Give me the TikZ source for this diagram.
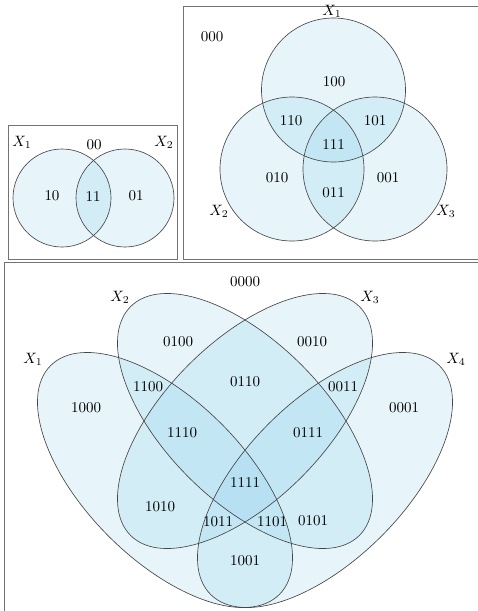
\documentclass[tikz,border=0pt]{standalone}
\definecolor{venn}{RGB}{135,206,235}
\tikzset{
  vfill/.style={fill=venn, fill opacity=0.2},
  vline/.style={draw=black!72, line width=0.65pt},
  frame/.style={draw=black!55, line width=1pt},
  lab/.style={inner sep=0pt, scale=1.5},
}
\begin{document}
\begin{tikzpicture}[x=1pt,y=-1pt]
\useasboundingbox (0,0) rectangle (478,611);
\clip (0,0) rectangle (478,611);
\fill[white] (0,0) rectangle (478,611);
% frames
\draw[frame] (8,125) rectangle (177,259);
\draw[frame] (183,6) rectangle (490,259);
\draw[frame] (4.5,262) rectangle (490,630);
% ---- panel 1
\foreach \c in {(62,198),(125,198)} \fill[vfill] \c circle[radius=49pt];
\foreach \c in {(62,198),(125,198)} \draw[vline] \c circle[radius=49pt];
\node[lab] (a1) at (22,142) {$X_1$};
\node[lab] (a2) at (164,142) {$X_2$};
\node[lab] (a00) at (94,145) {00};
\node[lab] (a10) at (52,196) {10};
\node[lab] (a11) at (93,196) {11};
\node[lab] (a01) at (136,196) {01};
% ---- panel 2
\foreach \c in {(333.5,90),(292,169),(375,169)} \fill[vfill] \c circle[radius=72pt];
\foreach \c in {(333.5,90),(292,169),(375,169)} \draw[vline] \c circle[radius=72pt];
\node[lab] (b1) at (332,11) {$X_1$};
\node[lab] (b2) at (219,211) {$X_2$};
\node[lab] (b3) at (446,211) {$X_3$};
\node[lab] (b000) at (212,37) {000};
\node[lab] (b100) at (334,82) {100};
\node[lab] (b110) at (291,121) {110};
\node[lab] (b101) at (375,121) {101};
\node[lab] (b111) at (333.5,145) {111};
\node[lab] (b010) at (277,178) {010};
\node[lab] (b011) at (333.5,193) {011};
\node[lab] (b001) at (388,178) {001};
% ---- panel 3
\def\ea{161.8pt}\def\eb{79.6pt}
\fill[vfill, rotate around={-45:(165,480)}] (165,480) ellipse [x radius=\ea, y radius=\eb];
\fill[vfill, rotate around={-45:(245,421)}] (245,421) ellipse [x radius=\ea, y radius=\eb];
\fill[vfill, rotate around={45:(245,421)}] (245,421) ellipse [x radius=\ea, y radius=\eb];
\fill[vfill, rotate around={45:(325,480)}] (325,480) ellipse [x radius=\ea, y radius=\eb];
\draw[vline, rotate around={-45:(165,480)}] (165,480) ellipse [x radius=\ea, y radius=\eb];
\draw[vline, rotate around={-45:(245,421)}] (245,421) ellipse [x radius=\ea, y radius=\eb];
\draw[vline, rotate around={45:(245,421)}] (245,421) ellipse [x radius=\ea, y radius=\eb];
\draw[vline, rotate around={45:(325,480)}] (325,480) ellipse [x radius=\ea, y radius=\eb];
\node[lab] (c1) at (33,359) {$X_1$};
\node[lab] (c2) at (120,297) {$X_2$};
\node[lab] (c3) at (370,297) {$X_3$};
\node[lab] (c4) at (456,359) {$X_4$};
\node[lab] (c0000) at (245,282) {0000};
\node[lab] (c0100) at (178,342) {0100};
\node[lab] (c0010) at (312,342) {0010};
\node[lab] (c0110) at (245,382) {0110};
\node[lab] (c1100) at (148,387) {1100};
\node[lab] (c0011) at (343,387) {0011};
\node[lab] (c1000) at (86,408) {1000};
\node[lab] (c0001) at (404,408) {0001};
\node[lab] (c1110) at (182,433) {1110};
\node[lab] (c0111) at (308,433) {0111};
\node[lab] (c1111) at (245,482) {1111};
\node[lab] (c1010) at (160,507) {1010};
\node[lab] (c0101) at (313,521) {0101};
\node[lab] (c1011) at (218,522) {1011};
\node[lab] (c1101) at (272,522) {1101};
\node[lab] (c1001) at (245,561) {1001};
\end{tikzpicture}
\end{document}
